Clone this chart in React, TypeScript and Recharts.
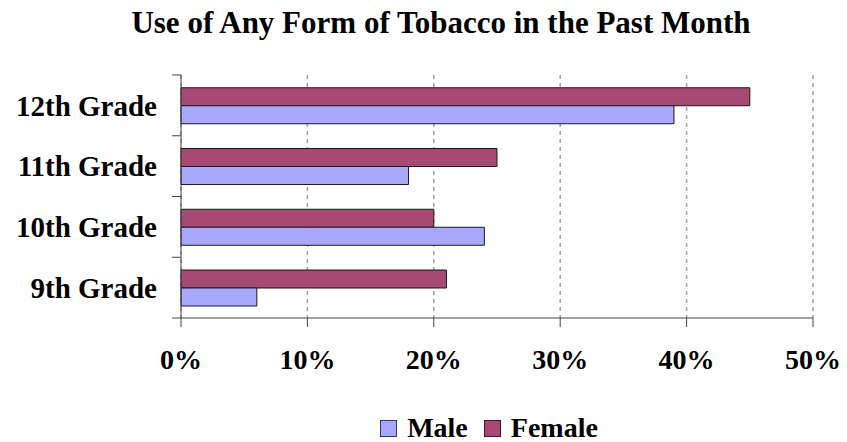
import { BarChart, Bar, XAxis, YAxis, CartesianGrid, Legend } from 'recharts'

const grades = ['12th Grade', '11th Grade', '10th Grade', '9th Grade']
const maleValues = [39, 18, 24, 6]
const femaleValues = [45, 25, 20, 21]
const xTicks = [0, 10, 20, 30, 40, 50]

const data = grades.map((grade, i) => ({
  grade,
  male: maleValues[i],
  female: femaleValues[i],
}))

const serif = '"Liberation Serif", "Times New Roman", serif'
const MALE = '#a8a8ff'
const FEMALE = '#a64a74'
const AXIS = '#4a4444'
const LABEL_GAP = 24

// category label plus a small tick at each band boundary (like the original)
function GradeTick(props: any) {
  const { x, y, payload, index, height } = props
  const half = payload.offset || height / grades.length / 2
  const ax = x + LABEL_GAP
  return (
    <g>
      <line x1={ax - 9} x2={ax} y1={y - half} y2={y - half} stroke={AXIS} />
      {index === grades.length - 1 && (
        <line x1={ax - 9} x2={ax} y1={y + half} y2={y + half} stroke={AXIS} />
      )}
      <text
        x={x}
        y={y}
        dy="0.355em"
        textAnchor="end"
        fontFamily={serif}
        fontWeight="bold"
        fontSize={29}
        fill="#000"
      >
        {payload.value}
      </text>
    </g>
  )
}

function LegendContent() {
  const items = [
    { label: 'Male', color: MALE, border: '#33337a' },
    { label: 'Female', color: FEMALE, border: '#4a1630' },
  ]
  return (
    <div style={{ display: 'flex', justifyContent: 'center', alignItems: 'center', height: 30 }}>
      {items.map((it) => (
        <div key={it.label} style={{ display: 'flex', alignItems: 'center', marginRight: 16 }}>
          <span
            style={{
              display: 'inline-block',
              width: 15,
              height: 15,
              background: it.color,
              border: `1px solid ${it.border}`,
              marginRight: 10,
            }}
          />
          <span style={{ fontFamily: serif, fontWeight: 'bold', fontSize: 28, color: '#000' }}>{it.label}</span>
        </div>
      ))}
    </div>
  )
}

export default function App() {
  return (
    <div style={{ position: 'absolute', left: 0, top: 0, width: 847, height: 442, background: '#fff' }}>
      <div
        style={{
          position: 'absolute',
          left: 0,
          top: 5,
          width: 882,
          textAlign: 'center',
          fontFamily: serif,
          fontWeight: 'bold',
          fontSize: 31,
          lineHeight: '36px',
          color: '#000',
        }}
      >
        Use of Any Form of Tobacco in the Past Month
      </div>
      <BarChart
        width={847}
        height={442}
        data={data}
        layout="vertical"
        margin={{ top: 75, right: 34, left: 11, bottom: 34 }}
        barCategoryGap="21%"
        barGap={0}
      >
        <CartesianGrid
          yAxisId="cat"
          horizontal={false}
          stroke="#a0a0a0"
          strokeWidth={1.5}
          strokeDasharray="4 4"
        />
        <XAxis
          type="number"
          domain={[0, 50]}
          ticks={xTicks}
          tickFormatter={(v: number) => `${v}%`}
          height={60}
          tickSize={9}
          tickMargin={22}
          stroke={AXIS}
          tick={{ fontFamily: serif, fontWeight: 'bold', fontSize: 28, fill: '#000' }}
        />
        <YAxis
          yAxisId="cat"
          dataKey="grade"
          type="category"
          width={170}
          axisLine={{ stroke: AXIS }}
          tickLine={false}
          tickSize={0}
          tickMargin={LABEL_GAP}
          tick={<GradeTick />}
        />
        <Legend
          verticalAlign="bottom"
          content={<LegendContent />}
          wrapperStyle={{ top: 413, bottom: 'auto', left: 181, width: 632 }}
        />
        <Bar yAxisId="cat" dataKey="female" name="Female" fill={FEMALE} stroke="#1a1a1a" strokeWidth={1} isAnimationActive={false} />
        <Bar yAxisId="cat" dataKey="male" name="Male" fill={MALE} stroke="#1a1a1a" strokeWidth={1} isAnimationActive={false} />
      </BarChart>
    </div>
  )
}
